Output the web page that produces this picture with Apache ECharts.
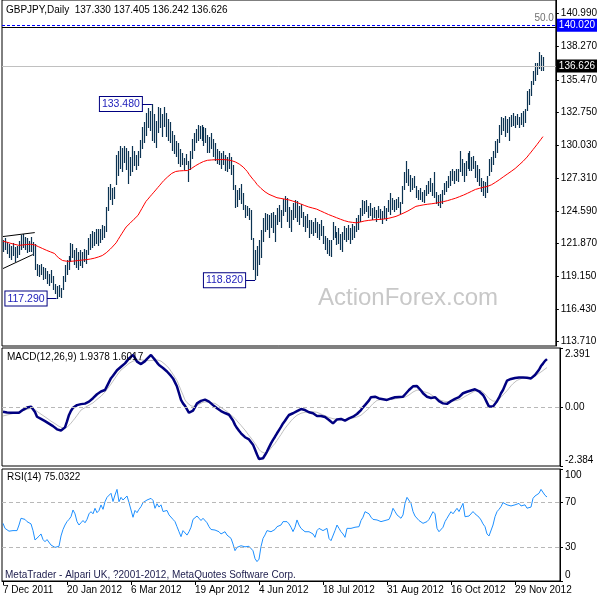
<!DOCTYPE html>
<html>
<head>
<meta charset="utf-8">
<title>GBPJPY Daily</title>
<script src="https://cdn.jsdelivr.net/npm/echarts@6.0.0/dist/echarts.min.js"></script>
<style>
  html, body { margin: 0; padding: 0; background: #fff; }
  #chart { width: 600px; height: 600px; }
</style>
</head>
<body>
<div id="chart"></div>
<script>
// daily bars, one per weekday starting 7 Dec 2011
const barHigh = [
  122.14,122.30,122.00,121.80,121.65,121.90,121.55,121.70,122.10,122.60,
  122.70,122.45,122.30,122.10,122.40,122.00,121.80,120.20,120.05,120.15,
  119.95,119.80,119.55,119.30,119.65,119.15,118.50,118.30,118.40,118.15,
  119.15,120.05,120.50,120.80,121.90,121.80,121.30,121.50,121.15,121.30,
  121.15,121.40,121.30,122.30,122.70,122.95,122.80,123.05,123.10,123.05,
  123.40,123.30,124.90,126.60,126.80,126.45,126.60,129.20,129.60,129.95,
  129.80,130.00,129.85,129.60,129.10,129.95,129.60,129.20,129.60,130.45,
  131.60,131.95,132.75,133.10,132.90,133.48,132.67,132.09,133.25,133.10,
  132.60,133.25,132.75,132.25,131.95,131.26,130.93,130.43,130.20,129.75,
  129.43,129.00,129.35,128.77,129.60,130.60,131.10,131.43,131.76,131.67,
  131.76,131.60,131.50,130.93,130.76,131.10,130.60,130.20,129.77,129.60,
  129.43,129.60,129.27,129.10,129.43,129.10,128.36,126.70,126.29,126.45,
  126.78,126.04,125.04,124.96,124.80,124.63,122.30,121.31,121.65,122.14,
  122.97,123.96,124.38,124.30,124.21,124.38,124.46,124.21,124.80,125.04,
  124.63,125.54,125.79,125.62,124.88,124.63,125.21,125.46,125.37,124.96,
  125.13,124.46,124.13,124.30,123.80,123.80,123.63,123.96,123.63,123.46,
  123.80,123.30,122.47,122.30,122.14,122.14,123.63,123.30,122.80,123.13,
  122.63,122.80,123.30,123.13,123.38,123.13,123.46,123.30,123.96,124.21,
  124.80,125.46,125.37,125.46,124.96,125.21,124.80,124.88,124.63,124.96,
  124.71,124.55,124.96,124.80,125.46,126.04,125.62,125.46,125.54,125.71,
  125.29,126.62,127.78,128.77,128.10,127.53,127.28,127.45,126.62,126.29,
  126.45,126.12,126.29,126.70,127.11,127.28,126.87,127.78,126.12,125.87,
  125.96,126.29,126.87,127.11,127.45,127.94,128.10,127.86,128.10,128.10,
  129.60,128.94,128.60,128.77,129.43,129.60,129.10,129.19,128.77,128.44,
  128.10,127.28,127.11,126.95,127.45,128.94,129.10,129.60,130.43,130.60,
  131.76,132.42,132.34,132.50,132.25,132.42,132.59,132.75,132.50,132.67,
  132.42,132.75,132.92,133.08,134.58,134.74,135.41,136.24,136.90,136.90,
  137.81,137.56,137.405
];
const barLow = [
  121.14,121.30,121.00,120.65,120.50,120.80,120.30,120.65,120.90,121.30,
  121.50,121.30,121.05,121.15,121.20,120.80,119.65,119.15,119.05,119.25,
  118.80,118.90,118.50,118.30,118.60,118.00,117.65,117.29,117.40,117.30,
  118.00,118.65,119.25,119.65,120.30,120.65,120.10,119.80,119.65,120.00,
  119.80,120.30,120.15,120.90,121.30,121.50,121.65,121.80,121.70,121.95,
  122.15,122.30,122.80,124.60,125.45,125.05,125.60,126.70,127.50,128.10,
  127.80,128.60,127.95,126.80,127.45,127.80,128.30,127.95,128.35,128.95,
  129.75,130.25,130.85,131.45,131.25,130.43,130.27,129.85,131.10,131.45,
  130.70,131.60,130.75,130.43,130.25,129.60,129.35,129.10,128.50,128.20,
  128.36,127.95,128.36,126.95,127.95,128.94,129.60,130.27,130.43,130.60,
  130.43,130.00,130.27,129.43,129.43,129.77,129.10,128.77,128.52,128.36,
  128.10,128.36,127.94,127.78,128.10,127.60,126.29,124.80,124.88,125.46,
  125.13,124.63,123.96,124.13,123.80,122.14,119.65,118.82,119.15,120.07,
  120.65,121.97,122.80,122.97,122.30,123.13,122.72,121.97,123.38,123.63,
  123.13,124.13,124.46,123.63,123.13,122.80,123.80,123.96,123.63,123.38,
  123.96,123.21,122.80,123.13,122.30,122.63,122.47,122.72,122.30,122.14,
  122.47,121.80,121.31,120.98,120.81,120.73,122.14,122.30,121.72,121.80,
  121.31,121.14,122.14,121.97,122.14,121.80,122.14,122.30,122.80,122.97,
  123.63,124.13,124.30,124.46,123.96,124.13,123.80,123.96,123.63,123.96,
  123.80,123.46,123.88,123.71,124.46,124.21,124.63,124.46,124.63,124.80,
  124.30,125.13,126.29,126.87,126.62,126.12,126.29,126.45,125.62,125.46,
  125.46,125.29,125.21,125.79,125.96,126.12,125.79,125.62,125.13,124.96,
  124.80,125.13,125.87,126.12,126.45,126.62,127.03,126.78,127.11,126.95,
  127.78,127.45,126.95,127.45,128.10,127.94,127.94,128.10,127.28,126.95,
  126.62,126.12,125.79,125.62,126.04,127.45,127.78,128.36,129.02,129.43,
  130.27,130.93,131.26,130.76,131.10,130.43,131.59,131.67,131.50,131.76,
  131.50,131.76,131.59,131.92,132.92,133.42,134.16,135.08,135.41,135.90,
  136.40,136.24,136.242
];
// red moving average
const maLine = [
  122.06,122.02,121.98,121.93,121.88,121.84,121.80,121.76,121.72,121.73,
  121.75,121.77,121.79,121.80,121.81,121.81,121.75,121.68,121.60,121.52,
  121.45,121.37,121.30,121.23,121.17,121.10,121.04,120.85,120.68,120.55,
  120.46,120.42,120.40,120.39,120.39,120.40,120.42,120.44,120.46,120.48,
  120.50,120.51,120.53,120.54,120.58,120.61,120.65,120.70,120.75,120.81,
  120.87,120.98,121.10,121.23,121.40,121.57,121.75,121.93,122.20,122.47,
  122.73,122.99,123.24,123.40,123.56,123.72,123.89,124.05,124.21,124.50,
  124.79,125.08,125.37,125.56,125.76,125.95,126.14,126.33,126.53,126.72,
  126.92,127.11,127.27,127.42,127.55,127.70,127.82,127.86,127.89,127.91,
  127.92,127.93,127.93,127.94,128.02,128.12,128.23,128.34,128.44,128.53,
  128.61,128.69,128.77,128.79,128.81,128.82,128.83,128.84,128.84,128.85,
  128.85,128.85,128.84,128.83,128.81,128.77,128.72,128.66,128.60,128.48,
  128.36,128.23,128.05,127.87,127.62,127.40,127.20,127.01,126.78,126.62,
  126.45,126.31,126.17,126.06,125.96,125.89,125.82,125.75,125.68,125.65,
  125.62,125.59,125.56,125.54,125.50,125.45,125.40,125.34,125.29,125.22,
  125.16,125.09,125.03,124.96,124.91,124.87,124.82,124.78,124.73,124.65,
  124.58,124.50,124.43,124.35,124.28,124.22,124.15,124.08,124.02,123.96,
  123.89,123.83,123.77,123.71,123.68,123.65,123.63,123.61,123.59,123.62,
  123.66,123.70,123.74,123.77,123.79,123.81,123.83,123.85,123.86,123.87,
  123.88,123.90,123.91,123.92,123.96,124.00,124.04,124.09,124.13,124.20,
  124.27,124.34,124.42,124.49,124.58,124.68,124.77,124.87,124.96,124.99,
  125.03,125.06,125.09,125.12,125.14,125.16,125.18,125.21,125.23,125.26,
  125.29,125.32,125.36,125.39,125.44,125.49,125.54,125.59,125.64,125.70,
  125.77,125.84,125.90,125.97,126.05,126.13,126.21,126.29,126.37,126.42,
  126.46,126.51,126.55,126.59,126.62,126.67,126.75,126.85,126.95,127.06,
  127.17,127.29,127.41,127.53,127.64,127.76,127.87,127.99,128.11,128.26,
  128.41,128.56,128.71,128.86,129.06,129.27,129.47,129.68,129.89,130.10,
  130.32,130.54,130.76
];
const macdMain = [
  -0.19,-0.20,-0.22,-0.23,-0.23,-0.24,-0.23,-0.23,-0.23,-0.18,
  -0.11,-0.05,-0.02,0.01,0.02,0.00,-0.20,-0.39,-0.44,-0.48,
  -0.52,-0.57,-0.62,-0.67,-0.72,-0.77,-0.83,-0.90,-0.96,-0.95,
  -0.90,-0.82,-0.58,-0.32,-0.15,-0.03,0.04,0.08,0.10,0.12,
  0.13,0.14,0.15,0.22,0.29,0.36,0.44,0.52,0.59,0.63,
  0.66,0.69,0.85,1.01,1.17,1.27,1.38,1.49,1.56,1.63,
  1.70,1.77,1.87,1.97,2.04,2.11,1.98,1.84,1.78,1.74,
  1.80,1.86,1.95,2.03,2.11,2.01,1.91,1.80,1.70,1.64,
  1.58,1.52,1.44,1.37,1.26,1.16,1.00,0.83,0.56,0.29,
  0.15,0.05,-0.09,-0.23,-0.20,-0.14,0.00,0.15,0.20,0.25,
  0.29,0.30,0.29,0.22,0.15,0.08,0.01,-0.05,-0.12,-0.16,
  -0.20,-0.24,-0.27,-0.31,-0.36,-0.54,-0.72,-0.85,-0.96,-1.06,
  -1.14,-1.22,-1.28,-1.31,-1.33,-1.52,-1.72,-1.92,-2.10,-2.09,
  -2.07,-1.94,-1.80,-1.63,-1.47,-1.33,-1.20,-1.06,-0.93,-0.80,
  -0.66,-0.55,-0.43,-0.32,-0.29,-0.25,-0.22,-0.16,-0.12,-0.08,
  -0.05,-0.12,-0.19,-0.21,-0.23,-0.25,-0.30,-0.36,-0.36,-0.36,
  -0.36,-0.40,-0.46,-0.52,-0.59,-0.66,-0.58,-0.50,-0.49,-0.48,
  -0.51,-0.55,-0.50,-0.46,-0.42,-0.39,-0.34,-0.28,-0.23,-0.12,
  -0.01,0.08,0.15,0.27,0.40,0.41,0.42,0.38,0.35,0.33,
  0.32,0.30,0.29,0.32,0.35,0.37,0.40,0.41,0.41,0.42,
  0.42,0.51,0.60,0.69,0.77,0.84,0.87,0.85,0.80,0.67,
  0.56,0.49,0.42,0.36,0.37,0.39,0.40,0.32,0.24,0.17,
  0.15,0.14,0.13,0.19,0.24,0.29,0.33,0.37,0.40,0.47,
  0.56,0.61,0.62,0.64,0.67,0.70,0.72,0.68,0.64,0.60,
  0.49,0.35,0.18,0.02,0.01,0.02,0.13,0.24,0.38,0.56,
  0.69,0.88,1.07,1.11,1.14,1.16,1.18,1.19,1.20,1.20,
  1.20,1.20,1.19,1.17,1.16,1.22,1.30,1.37,1.51,1.66,
  1.76,1.87,1.94
];
const macdSignal = [
  -0.36,-0.34,-0.32,-0.30,-0.28,-0.26,-0.24,-0.22,-0.20,-0.18,
  -0.15,-0.12,-0.09,-0.07,-0.05,-0.06,-0.11,-0.17,-0.23,-0.29,
  -0.34,-0.40,-0.45,-0.51,-0.57,-0.62,-0.67,-0.72,-0.78,-0.82,
  -0.85,-0.86,-0.82,-0.75,-0.65,-0.55,-0.45,-0.34,-0.23,-0.12,
  -0.07,-0.02,0.03,0.08,0.13,0.17,0.24,0.31,0.38,0.44,
  0.51,0.61,0.72,0.82,0.93,1.05,1.17,1.29,1.40,1.50,
  1.57,1.63,1.70,1.77,1.84,1.86,1.88,1.90,1.91,1.91,
  1.90,1.89,1.88,1.88,1.88,1.89,1.90,1.91,1.89,1.86,
  1.80,1.73,1.65,1.57,1.45,1.33,1.20,1.07,0.88,0.68,
  0.49,0.29,0.18,0.10,0.05,0.03,0.02,0.06,0.11,0.16,
  0.20,0.22,0.21,0.19,0.17,0.16,0.15,0.10,0.04,-0.02,
  -0.07,-0.12,-0.18,-0.25,-0.32,-0.39,-0.46,-0.56,-0.65,-0.74,
  -0.84,-0.93,-1.04,-1.15,-1.25,-1.36,-1.47,-1.59,-1.71,-1.80,
  -1.86,-1.87,-1.84,-1.76,-1.66,-1.56,-1.47,-1.35,-1.23,-1.11,
  -0.98,-0.86,-0.76,-0.66,-0.56,-0.47,-0.39,-0.33,-0.30,-0.25,
  -0.23,-0.21,-0.20,-0.19,-0.19,-0.19,-0.19,-0.21,-0.24,-0.28,
  -0.31,-0.35,-0.38,-0.42,-0.45,-0.47,-0.48,-0.49,-0.50,-0.51,
  -0.52,-0.52,-0.50,-0.48,-0.46,-0.44,-0.42,-0.40,-0.38,-0.33,
  -0.26,-0.19,-0.12,-0.05,0.05,0.14,0.22,0.27,0.31,0.31,
  0.31,0.31,0.31,0.31,0.31,0.32,0.33,0.35,0.37,0.38,
  0.39,0.40,0.44,0.49,0.55,0.61,0.66,0.69,0.69,0.67,
  0.64,0.61,0.59,0.56,0.50,0.45,0.39,0.35,0.30,0.27,
  0.25,0.23,0.22,0.22,0.23,0.25,0.26,0.27,0.29,0.33,
  0.38,0.43,0.48,0.52,0.57,0.61,0.65,0.68,0.69,0.67,
  0.61,0.53,0.44,0.35,0.29,0.24,0.22,0.25,0.31,0.40,
  0.49,0.56,0.66,0.76,0.86,0.95,1.03,1.08,1.12,1.15,
  1.17,1.19,1.19,1.20,1.20,1.21,1.24,1.31,1.37,1.42,
  1.47,1.54,1.60
];
const rsiLine = [
  51.5,47,48.5,44.5,44.5,45,45,45,50,56,
  57.4,55,53,53,51,45,36.6,38,40,42,
  37,35.1,37,38.5,32.1,31,30,29.2,31,40.2,
  46,50,53,55,57.4,63.4,60,53,50,52,
  54,52,55,60,61.9,60,64.9,61,63,67.9,
  64,70.8,74.7,76,78.3,71,76.8,81.8,70.8,74.7,
  72.3,74,75.9,70,69.3,56.9,63,61,64,66.4,
  70,71,72.3,73.5,73.8,72,64.9,69,66,68,
  62,60.4,63,59,57.4,55,53,48.5,44,39.6,
  45,44,41,44,48,55,56,58,56,54,
  56,57.4,52,48.5,46,46.5,45.5,45,44,42,
  43,44,41,40,38.1,33,27.1,30,31,31.5,
  31,30.5,30,31,32,27,20,17.3,19.5,30.7,
  38,41.1,45,44,44,45.5,46,48.5,49,50,
  53,54.5,53,51,48,44.1,48,54.5,50,47,
  45.5,44,44.5,44,43,42,39,45,47,46,
  45,46,47,38,36,35.1,45,50,47,44,
  42,39,47,46.5,47,47.5,48,48,48.5,54,
  57,61.9,61,60,57,55,54,54.5,54,53,
  53,54,54.5,55,59,64.9,62,59,58,56,
  59,69.3,74.7,73,69.3,62,58,57.4,54,53,
  51.5,52,53,55,56,61.9,60,47,44,44,
  48,53,56,59,61.9,60,61,64.9,62,61,
  69.3,57.4,57,58,59,62,60,59,57,54.5,
  51,48.5,42,40.2,40.2,50,57.4,61.9,64,66.4,
  70,69,68,67,67,67,68,68.5,69.3,67,
  68,68,65,64,66,73.8,75.9,77,78.3,81.8,
  81.5,76.5,75.03
];

const priceTicks = [113.71, 116.43, 119.15, 121.87, 124.59, 127.31, 130.03, 132.75, 135.47, 138.27, 140.99];
const macdTicks = [-2.384, 0, 2.391];
const rsiTicks = [0, 30, 70, 100];
const rsiLevels = [70, 30];

const fiboLevel = 140.02;
const blackLevel = 139.83;
const lastClose = 136.626;
const pivotIndex = [75, 27, 127];
const pivotPrice = [133.48, 117.29, 118.82];

const months = ['Jan','Feb','Mar','Apr','May','Jun','Jul','Aug','Sep','Oct','Nov','Dec'];
const dates = [];
for (let d = Date.UTC(2011, 11, 7); dates.length < 279; d += 86400000) {
  const dt = new Date(d);
  const wd = dt.getUTCDay();
  if (wd !== 0 && wd !== 6) dates.push(dt.getUTCDate() + ' ' + months[dt.getUTCMonth()] + ' ' + dt.getUTCFullYear());
}

const font = 'Liberation Sans, Arial, sans-serif';
const barColor = '#0c3352';
const navy = '#000080';

const chart = echarts.init(document.getElementById('chart'));

const hiddenX = (g) => ({
  type: 'category', gridIndex: g, data: dates, boundaryGap: true, show: false
});

const rightAxis = (g, min, max, ticks, fmt) => ({
  type: 'value', gridIndex: g, position: 'right', min: min, max: max,
  splitLine: { show: false },
  axisLine: { show: true, lineStyle: { color: '#000', width: 1 } },
  axisTick: { show: true, length: 3, customValues: ticks, lineStyle: { color: '#000' } },
  axisLabel: {
    customValues: ticks, formatter: fmt, color: '#000', fontSize: 10, fontFamily: font, margin: 5,
    rich: {
      dn: { padding: [12, 0, 0, 0], fontSize: 10, color: '#000', fontFamily: font },
      up: { padding: [0, 0, 12, 0], fontSize: 10, color: '#000', fontFamily: font }
    }
  }
});

const pivotLabels = pivotIndex.map((idx, k) => ({
  coord: [idx, pivotPrice[k]],
  value: pivotPrice[k].toFixed(3)
}));
const pivotLinks = pivotIndex.map((idx, k) => [
  { coord: [idx - 5, pivotPrice[k]], lineStyle: { color: navy, type: 'solid', width: 1 } },
  { coord: [idx, pivotPrice[k]] }
]);

chart.setOption({
  animation: false,
  backgroundColor: '#fff',
  textStyle: { fontFamily: font },
  grid: [
    { left: 2, width: 558, top: -1, height: 347, show: true, borderColor: '#000', borderWidth: 1 },
    { left: 2, width: 558, top: 348, height: 118, show: true, borderColor: '#000', borderWidth: 1 },
    { left: 2, width: 558, top: 469, height: 112, show: true, borderColor: '#000', borderWidth: 1 }
  ],
  xAxis: [
    hiddenX(0),
    hiddenX(1),
    {
      type: 'category', gridIndex: 2, data: dates, boundaryGap: true,
      axisLine: { show: true, lineStyle: { color: '#000' } },
      axisTick: { show: true, alignWithLabel: true, length: 4, interval: (i) => i % 32 === 0, lineStyle: { color: '#000' } },
      axisLabel: { interval: (i) => i % 32 === 0, align: 'left', margin: 4, color: '#000', fontSize: 10, fontFamily: font },
      splitLine: { show: false }
    }
  ],
  yAxis: [
    rightAxis(0, 113.35, 142.12, priceTicks, (v) => v.toFixed(3)),
    rightAxis(1, -2.384, 2.391, macdTicks, (v) => v === 0 ? '0.00' : (v > 0 ? '{dn|' + v.toFixed(3) + '}' : '{up|' + v.toFixed(3) + '}')),
    rightAxis(2, 0, 100, rsiTicks, (v) => v === 100 ? '{dn|100}' : (v === 0 ? '{up|0}' : String(v)))
  ],
  series: [
    {
      name: 'GBPJPY', type: 'custom', xAxisIndex: 0, yAxisIndex: 0, clip: true,
      data: barHigh.map((h, i) => [i, barLow[i], h]),
      encode: { x: 0, y: [1, 2] },
      renderItem: (params, api) => {
        const lo = api.coord([api.value(0), api.value(1)]);
        const hi = api.coord([api.value(0), api.value(2)]);
        const x = Math.round(lo[0]) + 0.5;
        return {
          type: 'line',
          shape: { x1: x, y1: Math.round(lo[1]), x2: x, y2: Math.round(hi[1]) },
          style: { stroke: barColor, lineWidth: 1.2 }
        };
      }
    },
    {
      name: 'MA', type: 'line', xAxisIndex: 0, yAxisIndex: 0, data: maLine,
      showSymbol: false, symbol: 'none', z: 3,
      lineStyle: { color: '#ff0000', width: 1 },
      markLine: {
        silent: true, symbol: 'none', animation: false,
        label: { show: false },
        data: [
          { yAxis: fiboLevel, lineStyle: { color: '#0000ff', type: [3, 2], width: 1 },
            label: { show: true, position: 'end', distance: 1, formatter: fiboLevel.toFixed(3), backgroundColor: '#0000ff', color: '#fff', padding: [2, 2, 1, 2], fontSize: 10, fontFamily: font } },
          { yAxis: fiboLevel, lineStyle: { color: 'rgba(0,0,0,0)', width: 1 },
            label: { show: true, position: 'insideEndTop', distance: 2, formatter: '50.0', color: '#707070', fontSize: 10, fontFamily: font } },
          { yAxis: blackLevel, lineStyle: { color: '#000', type: 'solid', width: 1 } },
          { yAxis: lastClose, lineStyle: { color: '#c0c0c0', type: 'solid', width: 1 },
            label: { show: true, position: 'end', distance: 1, formatter: lastClose.toFixed(3), backgroundColor: '#000', color: '#fff', padding: [2, 2, 1, 2], fontSize: 10, fontFamily: font } },
          [{ coord: [0, 122.45], lineStyle: { color: '#000', type: 'solid', width: 1 } }, { coord: [16, 122.78] }],
          [{ coord: [0, 119.79], lineStyle: { color: '#000', type: 'solid', width: 1 } }, { coord: [15, 120.95] }],
          ...pivotLinks
        ]
      },
      markPoint: {
        silent: true, symbol: 'rect', symbolSize: 0, animation: false,
        label: {
          show: true, position: 'left', distance: 10, formatter: (p) => p.value,
          backgroundColor: '#fff', borderColor: navy, borderWidth: 1, padding: [2, 2, 1, 2],
          color: '#2222bb', fontSize: 10.5, fontFamily: font
        },
        data: pivotLabels
      }
    },
    {
      name: 'MACD', type: 'line', xAxisIndex: 1, yAxisIndex: 1, data: macdMain,
      showSymbol: false, symbol: 'none', z: 4,
      lineStyle: { color: navy, width: 2.5 },
      markLine: {
        silent: true, symbol: 'none', animation: false, label: { show: false },
        lineStyle: { color: '#b8b8b8', type: [4, 3], width: 1 },
        data: [{ yAxis: 0 }]
      }
    },
    {
      name: 'Signal', type: 'line', xAxisIndex: 1, yAxisIndex: 1, data: macdSignal,
      showSymbol: false, symbol: 'none', z: 3,
      lineStyle: { color: '#c0c0c0', width: 1 }
    },
    {
      name: 'RSI', type: 'line', xAxisIndex: 2, yAxisIndex: 2, data: rsiLine,
      showSymbol: false, symbol: 'none',
      lineStyle: { color: '#1e90ff', width: 1 },
      markLine: {
        silent: true, symbol: 'none', animation: false, label: { show: false },
        lineStyle: { color: '#b8b8b8', type: [4, 3], width: 1 },
        data: rsiLevels.map((v) => ({ yAxis: v }))
      }
    }
  ],
  graphic: [
    { type: 'text', left: 318, top: 286, z: 0, silent: true,
      style: { text: 'ActionForex.com', fill: '#c8c8c8', font: '24px ' + font } },
    { type: 'text', left: 6, top: 5, z: 100, silent: true,
      style: { text: 'GBPJPY,Daily  137.330 137.405 136.242 136.626', fill: '#000', font: '10px ' + font } },
    { type: 'text', left: 7, top: 352, z: 100, silent: true,
      style: { text: 'MACD(12,26,9) 1.9378 1.6017', fill: '#000', font: '10px ' + font } },
    { type: 'text', left: 7, top: 472, z: 100, silent: true,
      style: { text: 'RSI(14) 75.0322', fill: '#000', font: '10px ' + font } },
    { type: 'text', left: 5, top: 570, z: 100, silent: true,
      style: { text: 'MetaTrader - Alpari UK, ?2001-2012, MetaQuotes Software Corp.', fill: '#1c1c4c', font: '10px ' + font } }
  ]
});
</script>
</body>
</html>
